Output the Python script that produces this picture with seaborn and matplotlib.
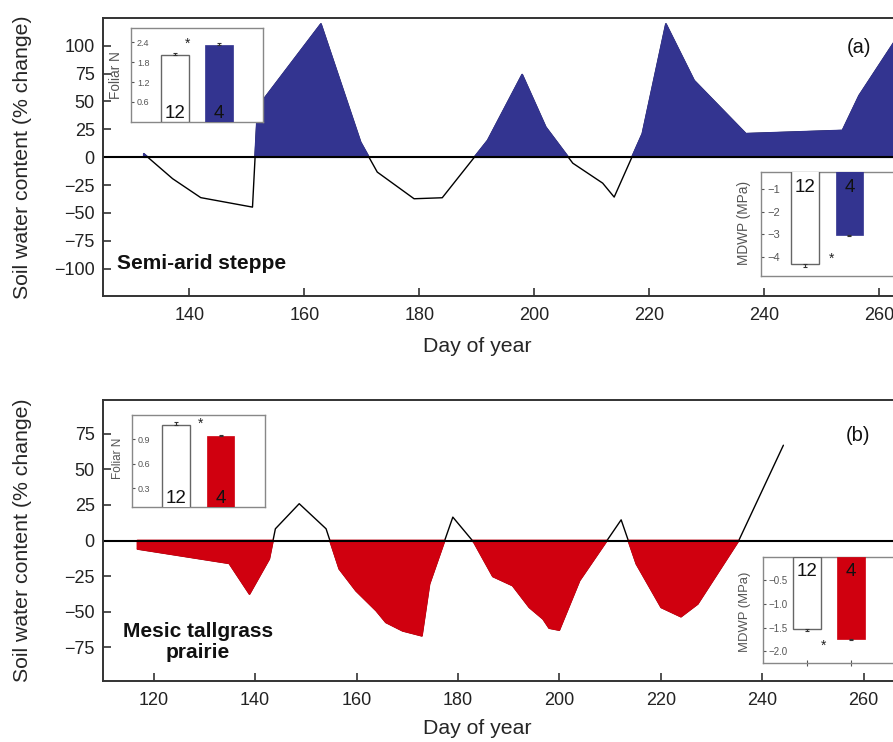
import numpy as np
import pandas as pd
import matplotlib
matplotlib.use("Agg")
import matplotlib.pyplot as plt
import matplotlib.transforms as mtransforms
import seaborn as sns

# ---------------- data ----------------
steppe_day = [132.1, 137.1, 142.0, 151.0, 151.9, 162.9, 169.8, 172.7, 179.1, 184.0,
              191.9, 197.9, 202.0, 206.7, 211.9, 213.9, 218.8, 222.9, 227.8, 236.8,
              253.6, 256.5, 265.0]
steppe_swc = [3, -19.3, -36.3, -44.8, 44.8, 119.4, 13.4, -13.4, -37.3, -36.4,
              15, 74, 26.9, -5.4, -23.3, -35.8, 21, 119.4, 68.7, 21,
              23.9, 55.2, 122]

prairie_day = [116.8, 134.9, 138.9, 142.8, 144.0, 148.7, 154.0, 156.6, 159.9, 163.9,
               165.8, 169.1, 172.9, 174.4, 179.0, 183.2, 186.9, 190.8, 194.1, 196.8,
               198.0, 200.0, 204.0, 212.2, 215.2, 220.1, 224.0, 227.3, 235.4, 244.2]
prairie_swc = [-5.9, -16, -37.5, -12.9, 8.2, 25.8, 8.2, -19.9, -35.2, -49.2,
               -57.4, -63.3, -66.8, -30.5, 16.4, -1.5, -25.2, -31.6, -46.9, -55,
               -61.4, -62.8, -28.1, 14.5, -16.4, -46.9, -53.4, -44.5, 0.0, 66.8]

inset_groups = ["12", "4"]
steppe_foliar_n = [2.02, 2.33]
steppe_foliar_err = [0.05, 0.05]
steppe_mdwp = [-4.33, -3.04]
steppe_mdwp_err = [0.12, 0.06]
prairie_foliar_n = [1.07, 0.94]
prairie_foliar_err = [0.035, 0.012]
prairie_mdwp = [-1.53, -1.74]
prairie_mdwp_err = [0.03, 0.02]

a_xticks = [140, 160, 180, 200, 220, 240, 260]
a_yticks = [-100, -75, -50, -25, 0, 25, 50, 75, 100]
b_xticks = [120, 140, 160, 180, 200, 220, 240, 260]
b_yticks = [-75, -50, -25, 0, 25, 50, 75]

BLUE = "#333490"
RED = "#d0000f"

# ---------------- style ----------------
sns.set_style("ticks")
plt.rcParams["font.family"] = ["Liberation Sans", "DejaVu Sans"]
plt.rcParams["axes.unicode_minus"] = True

W, H = 893, 742
fig = plt.figure(figsize=(W / 100, H / 100), dpi=100)


def px_rect(left, top, right, bottom):
    return [left / W, 1 - bottom / H, (right - left) / W, (bottom - top) / H]


def main_panel(rect, days, vals, color, positive, xlim, ylim, xticks, yticks,
               ylab_x, xlab_xy):
    ax = fig.add_axes(rect)
    df = pd.DataFrame({"day": days, "swc": vals})
    sns.lineplot(data=df, x="day", y="swc", color="black", lw=1.0, ax=ax, zorder=1.5)
    d = np.array(days)
    v = np.array(vals)
    where = v > 0 if positive else v < 0
    ax.fill_between(d, v, 0, where=where, interpolate=True, facecolor=color,
                    edgecolor=color, lw=1.3, zorder=2)
    ax.axhline(0, color="black", lw=1.5, zorder=2.2)
    ax.set_xticks(xticks)
    ax.set_yticks(yticks)
    ax.set_xlim(*xlim)
    ax.set_ylim(*ylim)
    ax.tick_params(direction="in", length=6, width=1.1, labelsize=13, colors="#222")
    ax.tick_params(axis="x", pad=8)
    ax.tick_params(axis="y", pad=6)
    for s in ax.spines.values():
        s.set_color("#333")
        s.set_linewidth(1.4)
    ax.set_ylabel("Soil water content (% change)", fontsize=15.3)
    ax.yaxis.set_label_coords(ylab_x, 0.5)
    ax.set_xlabel("Day of year", fontsize=15.3)
    ax.xaxis.set_label_coords(xlab_xy[0], xlab_xy[1])
    return ax


def inset(rect, values, errs, color, ylim, yticks, tick_fmt, ylabel, ylab_xy, up,
          num_y, star_xy, tick_fs, ylab_fs, xticks_visible=False):
    ax = fig.add_axes(rect)
    df = pd.DataFrame({"group": inset_groups, "value": values})
    sns.barplot(data=df, x="group", y="value", hue="group", palette=["white", color],
                width=0.62, saturation=1, legend=False, ax=ax, zorder=3)
    ax.patches[0].set_edgecolor("#666")
    ax.patches[0].set_linewidth(1.0)
    ax.patches[1].set_edgecolor(color)
    ax.patches[1].set_linewidth(0.5)
    if up:
        yerr = [[0, 0], errs]
    else:
        yerr = [errs, [0, 0]]
    ax.errorbar([0, 1], values, yerr=yerr, fmt="none", ecolor="#333", elinewidth=0.8,
                capsize=1.5, capthick=0.8, zorder=4)
    ax.set_xticks([0, 1])
    ax.set_xticklabels(["", ""])
    ax.set_yticks(yticks)
    ax.set_yticklabels([(tick_fmt % t).replace("-", "\u2212") for t in yticks])
    ax.set_xlim(-1, 2)
    ax.set_ylim(*ylim)
    ax.tick_params(axis="y", direction="in", length=2.5, width=0.8, color="#555",
                   labelsize=tick_fs, labelcolor="#555", pad=-4.5)
    for lbl in ax.get_yticklabels():
        lbl.set_horizontalalignment("left")
    if xticks_visible:
        ax.tick_params(axis="x", direction="inout", length=4, width=0.8, color="#555")
    else:
        ax.tick_params(axis="x", length=0)
    ax.set_xlabel("")
    ax.set_ylabel(ylabel, fontsize=ylab_fs, color="#555")
    ax.yaxis.set_label_coords(ylab_xy[0], ylab_xy[1])
    for s in ax.spines.values():
        s.set_color("#888")
        s.set_linewidth(1.0)
        s.set_zorder(2.5)
    tr = mtransforms.blended_transform_factory(ax.transData, ax.transAxes)
    va = "bottom" if up else "center"
    for i, g in enumerate(inset_groups):
        ax.text(i, num_y, g, transform=tr, ha="center", va=va, fontsize=13.5,
                color="#111", zorder=5)
    ax.text(star_xy[0], star_xy[1], "*", ha="center", va="center", fontsize=10,
            color="#222", zorder=5)
    return ax


# ---------------- panel (a) ----------------
a_xlim = (125, 272)
a_w = (a_xlim[1] - a_xlim[0]) * 5.75
ax_a = main_panel(px_rect(103, 18.3, 103 + a_w, 296), steppe_day, steppe_swc, BLUE, True,
                  a_xlim, (-124.5, 124.5), a_xticks, a_yticks,
                  (32 - 103) / a_w, ((477 - 103) / a_w, (296 - 337) / 277.7))
ax_a.text(127.4, -95, "Semi-arid steppe", fontsize=15, fontweight="bold",
          ha="left", va="center", color="#111")
ax_a.text(256.4, 98.5, "(a)", fontsize=14.5, ha="center", va="center", color="#111")

inset(px_rect(130.7, 28.3, 263.3, 121.7), steppe_foliar_n, steppe_foliar_err, BLUE,
      (0, 2.83), [0.6, 1.2, 1.8, 2.4], "%.1f", "Foliar N", (-0.058, 0.5), True,
      0.0, (0.28, 2.36), 6.5, 9.8)
inset(px_rect(761, 171.7, 893.6, 276), steppe_mdwp, steppe_mdwp_err, BLUE,
      (-4.86, -0.22), [-1, -2, -3, -4], "%d", "MDWP (MPa)", (-0.079, 0.505), False,
      0.844, (0.6, -4.1), 8, 9.8)

# ---------------- panel (b) ----------------
b_xlim = (110, 275)
b_w = (b_xlim[1] - b_xlim[0]) * 5.07
ax_b = main_panel(px_rect(103, 400, 103 + b_w, 681), prairie_day, prairie_swc, RED, False,
                  b_xlim, (-98.5, 98.5), b_xticks, b_yticks,
                  (32 - 103) / b_w, ((477 - 103) / b_w, (681 - 719) / 281))
ax_b.text(128.7, -71, "Mesic tallgrass\nprairie", fontsize=15, fontweight="bold",
          ha="center", va="center", multialignment="center", linespacing=1.15,
          color="#111")
ax_b.text(258.9, 73.8, "(b)", fontsize=14.5, ha="center", va="center", color="#111")

inset(px_rect(131.7, 415, 265, 506.7), prairie_foliar_n, prairie_foliar_err, RED,
      (0.076, 1.193), [0.3, 0.6, 0.9], "%.1f", "Foliar N", (-0.058, 0.528), True,
      0.0, (0.54, 1.08), 6.5, 8.5)
inset(px_rect(762.7, 556.7, 895.3, 663.3), prairie_mdwp, prairie_mdwp_err, RED,
      (-2.25, 0.0), [-0.5, -1.0, -1.5, -2.0], "%.1f", "MDWP (MPa)", (-0.088, 0.484),
      False, 0.859, (0.37, -1.89), 7, 9.4, xticks_visible=True)

fig.savefig("out.png", dpi=100)
